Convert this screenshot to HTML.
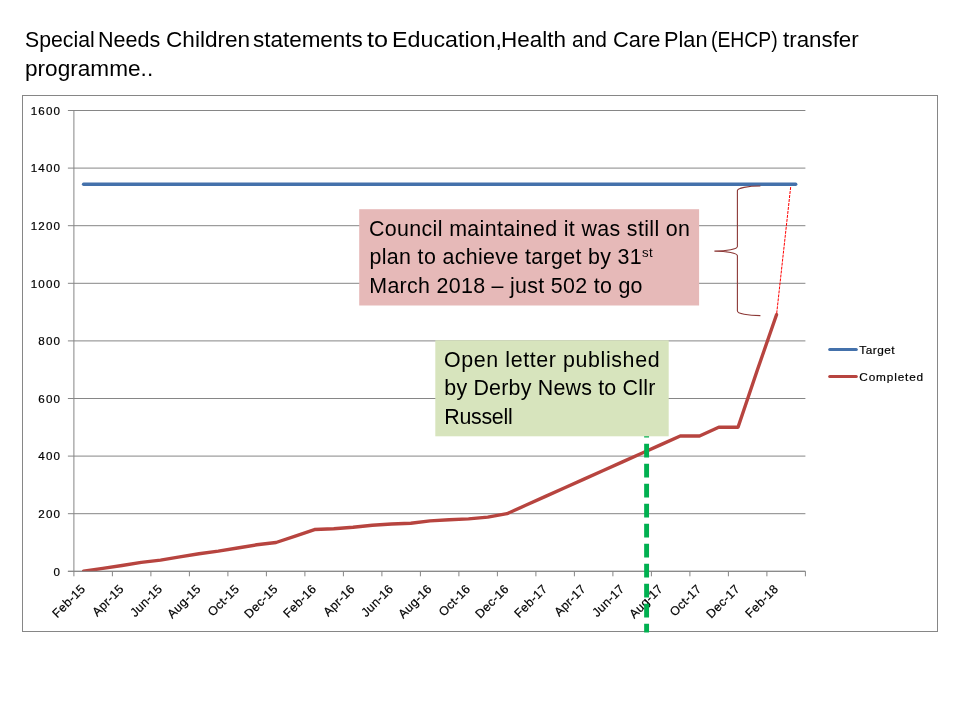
<!DOCTYPE html>
<html lang="en">
<head>
<meta charset="utf-8">
<title>EHCP transfer programme</title>
<style>
html,body{margin:0;padding:0;background:#fff;}
body{width:960px;height:720px;position:relative;overflow:hidden;font-family:"Liberation Sans",sans-serif;color:#000;}
.title{position:absolute;left:0;top:0;width:960px;height:90px;font-size:21.4px;line-height:28px;white-space:nowrap;}
.title span{position:absolute;display:block;transform-origin:0 50%;}
.note{position:absolute;font-size:21.4px;line-height:28px;white-space:nowrap;}
.note span{position:absolute;left:0;display:block;}
.pink{left:359.2px;top:209.2px;width:340.3px;height:96.3px;}
.green{left:435.3px;top:340.3px;width:233.4px;height:96px;}
sup{font-size:62%;line-height:0;vertical-align:baseline;position:relative;top:-7px;}
svg{position:absolute;left:0;top:0;}
svg text{font-family:"Liberation Sans",sans-serif;fill:#000;}
</style>
</head>
<body>
<div class="title"><span style="left:25.04px;top:25.5px;transform:scaleX(0.9929)">Special</span> <span style="left:97.53px;top:25.5px;transform:scaleX(1.0062)">Needs</span> <span style="left:165.55px;top:25.5px;transform:scaleX(1.0567)">Children</span> <span style="left:252.67px;top:25.5px;transform:scaleX(1.0494)">statements</span> <span style="left:367.32px;top:25.5px;transform:scaleX(1.1790)">to</span> <span style="left:392.09px;top:25.5px;transform:scaleX(1.0877)">Education,</span> <span style="left:501.46px;top:25.5px;transform:scaleX(1.0509)">Health</span> <span style="left:572.41px;top:25.5px;transform:scaleX(0.9786)">and</span> <span style="left:612.89px;top:25.5px;transform:scaleX(1.0215)">Care</span> <span style="left:663.92px;top:25.5px;transform:scaleX(1.0155)">Plan</span> <span style="left:710.50px;top:25.5px;transform:scaleX(0.9049)">(EHCP)</span> <span style="left:782.96px;top:25.5px;transform:scaleX(1.0436)">transfer</span> <span style="left:24.54px;top:54.6px;transform:scaleX(1.0570)">programme..</span></div>
<svg width="960" height="720" viewBox="0 0 960 720">

<rect x="22.5" y="95.5" width="915" height="536" fill="#fff" stroke="#868686" stroke-width="1"/>
<path d="M67.90 571.30H805.40M67.90 513.70H805.40M67.90 456.10H805.40M67.90 398.50H805.40M67.90 340.90H805.40M67.90 283.30H805.40M67.90 225.70H805.40M67.90 168.10H805.40M67.90 110.50H805.40" stroke="#868686" stroke-width="1" fill="none"/>
<path d="M73.90 110.50V571.30" stroke="#868686" stroke-width="1" fill="none"/>
<path d="M73.90 571.30v5M112.40 571.30v5M150.90 571.30v5M189.40 571.30v5M227.90 571.30v5M266.40 571.30v5M304.90 571.30v5M343.40 571.30v5M381.90 571.30v5M420.40 571.30v5M458.90 571.30v5M497.40 571.30v5M535.90 571.30v5M574.40 571.30v5M612.90 571.30v5M651.40 571.30v5M689.90 571.30v5M728.40 571.30v5M766.90 571.30v5M805.40 571.30v5" stroke="#868686" stroke-width="1" fill="none"/>
<text x="61" y="575.50" font-size="11.6" letter-spacing="1.1" text-anchor="end" stroke="#000" stroke-width="0.2">0</text>
<text x="61" y="517.90" font-size="11.6" letter-spacing="1.1" text-anchor="end" stroke="#000" stroke-width="0.2">200</text>
<text x="61" y="460.30" font-size="11.6" letter-spacing="1.1" text-anchor="end" stroke="#000" stroke-width="0.2">400</text>
<text x="61" y="402.70" font-size="11.6" letter-spacing="1.1" text-anchor="end" stroke="#000" stroke-width="0.2">600</text>
<text x="61" y="345.10" font-size="11.6" letter-spacing="1.1" text-anchor="end" stroke="#000" stroke-width="0.2">800</text>
<text x="61" y="287.50" font-size="11.6" letter-spacing="1.1" text-anchor="end" stroke="#000" stroke-width="0.2">1000</text>
<text x="61" y="229.90" font-size="11.6" letter-spacing="1.1" text-anchor="end" stroke="#000" stroke-width="0.2">1200</text>
<text x="61" y="172.30" font-size="11.6" letter-spacing="1.1" text-anchor="end" stroke="#000" stroke-width="0.2">1400</text>
<text x="61" y="114.70" font-size="11.6" letter-spacing="1.1" text-anchor="end" stroke="#000" stroke-width="0.2">1600</text>
<text transform="translate(86.03 589.60) rotate(-45)" font-size="12.3" letter-spacing="0.3" text-anchor="end" stroke="#000" stroke-width="0.2">Feb-15</text>
<text transform="translate(124.53 589.60) rotate(-45)" font-size="12.3" letter-spacing="0.3" text-anchor="end" stroke="#000" stroke-width="0.2">Apr-15</text>
<text transform="translate(163.03 589.60) rotate(-45)" font-size="12.3" letter-spacing="0.3" text-anchor="end" stroke="#000" stroke-width="0.2">Jun-15</text>
<text transform="translate(201.53 589.60) rotate(-45)" font-size="12.3" letter-spacing="0.3" text-anchor="end" stroke="#000" stroke-width="0.2">Aug-15</text>
<text transform="translate(240.03 589.60) rotate(-45)" font-size="12.3" letter-spacing="0.3" text-anchor="end" stroke="#000" stroke-width="0.2">Oct-15</text>
<text transform="translate(278.52 589.60) rotate(-45)" font-size="12.3" letter-spacing="0.3" text-anchor="end" stroke="#000" stroke-width="0.2">Dec-15</text>
<text transform="translate(317.02 589.60) rotate(-45)" font-size="12.3" letter-spacing="0.3" text-anchor="end" stroke="#000" stroke-width="0.2">Feb-16</text>
<text transform="translate(355.52 589.60) rotate(-45)" font-size="12.3" letter-spacing="0.3" text-anchor="end" stroke="#000" stroke-width="0.2">Apr-16</text>
<text transform="translate(394.02 589.60) rotate(-45)" font-size="12.3" letter-spacing="0.3" text-anchor="end" stroke="#000" stroke-width="0.2">Jun-16</text>
<text transform="translate(432.52 589.60) rotate(-45)" font-size="12.3" letter-spacing="0.3" text-anchor="end" stroke="#000" stroke-width="0.2">Aug-16</text>
<text transform="translate(471.02 589.60) rotate(-45)" font-size="12.3" letter-spacing="0.3" text-anchor="end" stroke="#000" stroke-width="0.2">Oct-16</text>
<text transform="translate(509.52 589.60) rotate(-45)" font-size="12.3" letter-spacing="0.3" text-anchor="end" stroke="#000" stroke-width="0.2">Dec-16</text>
<text transform="translate(548.02 589.60) rotate(-45)" font-size="12.3" letter-spacing="0.3" text-anchor="end" stroke="#000" stroke-width="0.2">Feb-17</text>
<text transform="translate(586.52 589.60) rotate(-45)" font-size="12.3" letter-spacing="0.3" text-anchor="end" stroke="#000" stroke-width="0.2">Apr-17</text>
<text transform="translate(625.02 589.60) rotate(-45)" font-size="12.3" letter-spacing="0.3" text-anchor="end" stroke="#000" stroke-width="0.2">Jun-17</text>
<text transform="translate(663.52 589.60) rotate(-45)" font-size="12.3" letter-spacing="0.3" text-anchor="end" stroke="#000" stroke-width="0.2">Aug-17</text>
<text transform="translate(702.02 589.60) rotate(-45)" font-size="12.3" letter-spacing="0.3" text-anchor="end" stroke="#000" stroke-width="0.2">Oct-17</text>
<text transform="translate(740.52 589.60) rotate(-45)" font-size="12.3" letter-spacing="0.3" text-anchor="end" stroke="#000" stroke-width="0.2">Dec-17</text>
<text transform="translate(779.02 589.60) rotate(-45)" font-size="12.3" letter-spacing="0.3" text-anchor="end" stroke="#000" stroke-width="0.2">Feb-18</text>
<clipPath id="plot"><rect x="73.90" y="100" width="731.50" height="471.60"/></clipPath>
<g clip-path="url(#plot)">
<path d="M83.53 184.23H795.77" stroke="#4471AB" stroke-width="3.3" stroke-linecap="round" fill="none"/>
<polyline points="83.53,571.30 102.78,568.42 122.03,565.54 141.28,562.37 160.53,560.07 179.78,556.90 199.03,553.73 218.28,551.14 237.53,547.97 256.77,544.80 276.02,542.50 295.27,536.16 314.52,529.54 333.77,528.68 353.02,527.24 372.27,525.22 391.52,524.07 410.77,523.20 430.02,520.90 449.27,519.75 468.52,518.88 487.77,517.16 507.02,513.70 526.27,505.06 545.52,496.42 564.77,487.78 584.02,479.14 603.27,470.50 622.52,461.86 641.77,453.22 661.02,444.58 680.27,435.94 699.52,435.94 718.77,427.30 738.02,427.30 757.27,370.28 776.52,314.69" stroke="#B7443F" stroke-width="3.4" stroke-linecap="round" stroke-linejoin="round" fill="none"/>
</g>
<path d="M67.90 571.30H805.40" stroke="#868686" stroke-width="1" fill="none"/>
<path d="M829.7 349.4H856.3" stroke="#4471AB" stroke-width="3" stroke-linecap="round" fill="none"/>
<path d="M829.7 376.4H856.3" stroke="#B7443F" stroke-width="3" stroke-linecap="round" fill="none"/>
<text x="859.3" y="354.2" font-size="11.8" letter-spacing="0.5" stroke="#000" stroke-width="0.2">Target</text>
<text x="859.3" y="380.8" font-size="11.8" letter-spacing="0.85" stroke="#000" stroke-width="0.2">Completed</text>
<path d="M646.6 423.7V632.4" stroke="#00B050" stroke-width="4.9" stroke-dasharray="13.75 6.25" fill="none"/>
<rect x="359.2" y="209.2" width="339.9" height="96.3" fill="#E6B9B8"/>
<rect x="435.3" y="340.3" width="233.4" height="96" fill="#D7E4BD"/>
<path d="M760.4 186A23 4.6 0 0 0 737.4 190.6V246.5A23 4.6 0 0 1 714.4 251.1A23 4.6 0 0 1 737.4 255.7V311A23 4.6 0 0 0 760.4 315.6" stroke="#8C3836" stroke-width="1.1" fill="none"/>
<path d="M776.7 313.3L790.7 186.7" stroke="#FF0000" stroke-width="1" stroke-dasharray="3 1" fill="none"/>
</svg>
<div class="note pink"><span style="left:9.8px;top:5.8px;letter-spacing:0.36px">Council maintained it was still on</span> <span style="left:10.3px;top:34.1px;letter-spacing:0.35px">plan to achieve target by 31<sup>st</sup></span> <span style="left:10.1px;top:62.6px;letter-spacing:0.31px">March 2018 – just 502 to go</span></div>
<div class="note green"><span style="left:8.7px;top:5.6px;letter-spacing:0.61px">Open letter published</span> <span style="left:9.0px;top:33.9px;letter-spacing:0.21px">by Derby News to Cllr</span> <span style="left:9.0px;top:62.7px;letter-spacing:-0.3px">Russell</span></div>
</body>
</html>
